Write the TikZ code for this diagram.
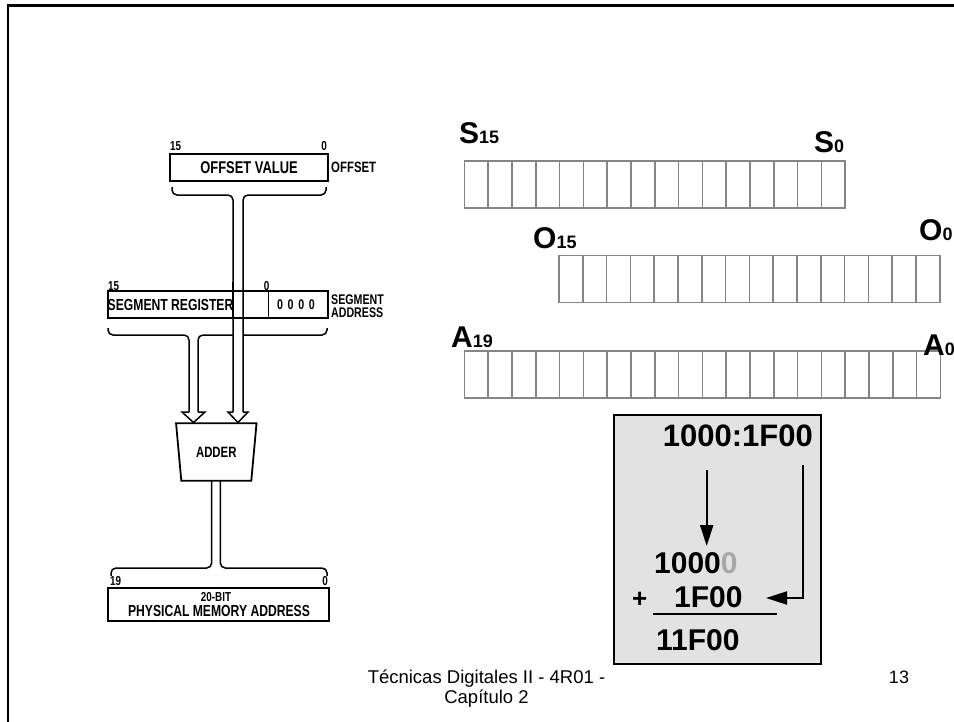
\documentclass[tikz,border=0pt]{standalone}
\usepackage{fontspec}
\setmainfont{Liberation Sans}
\newfontfamily\scanfont[FakeStretch=0.76]{Liberation Sans}
\usepackage{tikz}
\usetikzlibrary{arrows.meta,shapes.geometric}
\definecolor{regline}{HTML}{858585}
\definecolor{boxfill}{HTML}{E2E2E2}
\definecolor{zerogray}{HTML}{A8A8A8}
\newcommand\setsz[1]{\fontsize{#1}{#1}\selectfont}

\begin{document}
\begin{tikzpicture}[x=1pt, y=-1pt,
  cell/.style={draw=regline, line width=1.6pt, minimum width=23.8pt, minimum height=47pt, inner sep=0pt, outer sep=0pt},
  reglabel/.style={anchor=base west, inner sep=0pt, font=\bfseries},
  calc/.style={anchor=base west, inner sep=0pt, font=\bfseries\setsz{30}},
  calcarrow/.style={line width=2pt, -{Triangle[length=21pt,width=13pt]}},
  scanbox/.style={draw, line width=1.8pt, inner sep=0pt, outer sep=0pt},
  scantext/.style={inner sep=0pt, font=\scanfont\bfseries\setsz{16}},
  bitnum/.style={inner sep=0pt, anchor=base, font=\scanfont\bfseries\setsz{13}},
  bus/.style={line width=1.5pt, rounded corners=5pt},
  busarrow/.style={line width=1.5pt, line join=miter},
  adder/.style={trapezium, draw, line width=1.8pt, shape border rotate=180, trapezium stretches=true, trapezium angle=73.6, minimum width=80.7pt, minimum height=57.4pt, inner sep=0pt, font=\scanfont\bfseries\setsz{15}},
  footer/.style={anchor=base, inner sep=0pt, font=\setsz{18.5}}]
  \useasboundingbox (0,0) rectangle (954,721);

  % slide frame
  \draw[line width=2.3pt] (8,760) -- (8,5.5) -- (990,5.5);

  % scanned figure: offset register
  \node[scanbox, minimum width=157.7pt, minimum height=26.7pt] (offbox) at (248.8,167.3) {};
  \node[scantext, font=\scanfont\bfseries\setsz{17}] (offname) at (249,167.3) {OFFSET VALUE};
  \node[bitnum, anchor=base west] (off15) at (170,150) {15};
  \node[bitnum, anchor=base east] (off0) at (327,150) {0};
  \node[scantext, anchor=west, font=\scanfont\bfseries\setsz{15}] (offtag) at (331,167.5) {OFFSET};

  % segment register
  \node[scanbox, minimum width=219.7pt, minimum height=27pt, anchor=north west] (segbox) at (108,291) {};
  \draw[line width=2.2pt] (233,282) -- (233,318);
  \draw[line width=1.5pt] (268.3,291) -- (268.3,318);
  \node[scantext, anchor=west] (segname) at (107.5,305) {SEGMENT REGISTER};
  \node[scantext, font=\scanfont\bfseries\setsz{14}] (segzero) at (296,305) {0\,\,0\,\,0\,\,0};
  \node[bitnum, anchor=base west] (seg15) at (108,290) {15};
  \node[bitnum] (seg0) at (266.7,290) {0};
  \node[scantext, anchor=base west, font=\scanfont\bfseries\setsz{14}] (segtag1) at (331,304) {SEGMENT};
  \node[scantext, anchor=base west, font=\scanfont\bfseries\setsz{14}] (segtag2) at (331,317) {ADDRESS};

  % offset bus
  \draw[bus] (172,187) -- (172,195) -- (233,195) -- (233,412);
  \draw[bus] (326,187) -- (326,195) -- (243,195) -- (243,412);
  \draw[busarrow] (233,412) -- (228,412) -- (238,422.5) -- (248,412) -- (243,412);

  % segment bus
  \draw[bus] (108,328) -- (108,335) -- (189,335) -- (189,412);
  \draw[bus] (327,328) -- (327,335) -- (243,335);
  \draw[bus] (233,335) -- (198,335) -- (198,412);
  \draw[busarrow] (189,412) -- (182,412) -- (193.5,422.5) -- (205,412) -- (198,412);

  % adder
  \node[adder] (adder) at (216.3,452) {ADDER};

  % result bus
  \draw[bus] (211.7,481) -- (211.7,568) -- (111,568) -- (111,576);
  \draw[bus] (220.3,481) -- (220.3,568) -- (327,568) -- (327,576);

  % physical address
  \node[scanbox, minimum width=221pt, minimum height=32.7pt] (physbox) at (218.5,604.3) {};
  \node[bitnum, anchor=base west] (phys19) at (110,585) {19};
  \node[bitnum, anchor=base east] (phys0) at (328,585) {0};
  \node[scantext, anchor=base, font=\scanfont\bfseries\setsz{13}] (physbits) at (216,601.5) {20-BIT};
  \node[scantext, anchor=base] (physname) at (219,616.5) {PHYSICAL MEMORY ADDRESS};

  % registers
  \foreach \b in {0,...,15}
    \node[cell] (s\b) at ({476.2+(15-\b)*23.8},184.2) {};
  \foreach \b in {0,...,15}
    \node[cell] (o\b) at ({570.9+(15-\b)*23.8},279) {};
  \foreach \b in {0,...,19}
    \node[cell] (a\b) at ({476.2+(19-\b)*23.8},374.5) {};
  \node[reglabel] (s15lab) at (459,143) {{\setsz{30}S}{\setsz{18}15}};
  \node[reglabel] (s0lab) at (814,152) {{\setsz{30}S}{\setsz{18}0}};
  \node[reglabel] (o15lab) at (533,248) {{\setsz{30}O}{\setsz{18}15}};
  \node[reglabel] (o0lab) at (919,240) {{\setsz{30}O}{\setsz{18}0}};
  \node[reglabel] (a19lab) at (451,347) {{\setsz{30}A}{\setsz{18}19}};
  \node[reglabel] (a0lab) at (923,355) {{\setsz{30}A}{\setsz{18}0}};

  % worked example
  \node[draw, line width=2pt, fill=boxfill, minimum width=207.3pt, minimum height=248.7pt, anchor=north west, inner sep=0pt] (calcbox) at (612.7,414) {};
  \node[calc, anchor=base east, font=\bfseries\setsz{31}] (addr) at (813,446) {1000:1F00};
  \node[calc] (seg) at (654,573) {1000\textcolor{zerogray}{0}};
  \node[calc, font=\bfseries\setsz{26}] (plus) at (632,607) {+};
  \node[calc] (off) at (674,607) {1F00};
  \node[calc] (sum) at (656,650) {11F00};
  \coordinate (segsrc) at (706.7,470);
  \coordinate (segdst) at (706.7,546);
  \coordinate (offsrc) at (803,465);
  \coordinate (offdst) at (766,598);
  \draw[calcarrow] (segsrc) -- (segdst);
  \draw[calcarrow] (offsrc) |- (offdst);
  \draw[line width=2pt] (653,614) -- (777,614);

  % footer
  \node[footer] (foot1) at (486.5,683.5) {Técnicas Digitales II - 4R01 -};
  \node[footer] (foot2) at (486.5,703) {Capítulo 2};
  \node[footer, font=\setsz{18}] (pagenum) at (899,683.5) {13};
\end{tikzpicture}
\end{document}
